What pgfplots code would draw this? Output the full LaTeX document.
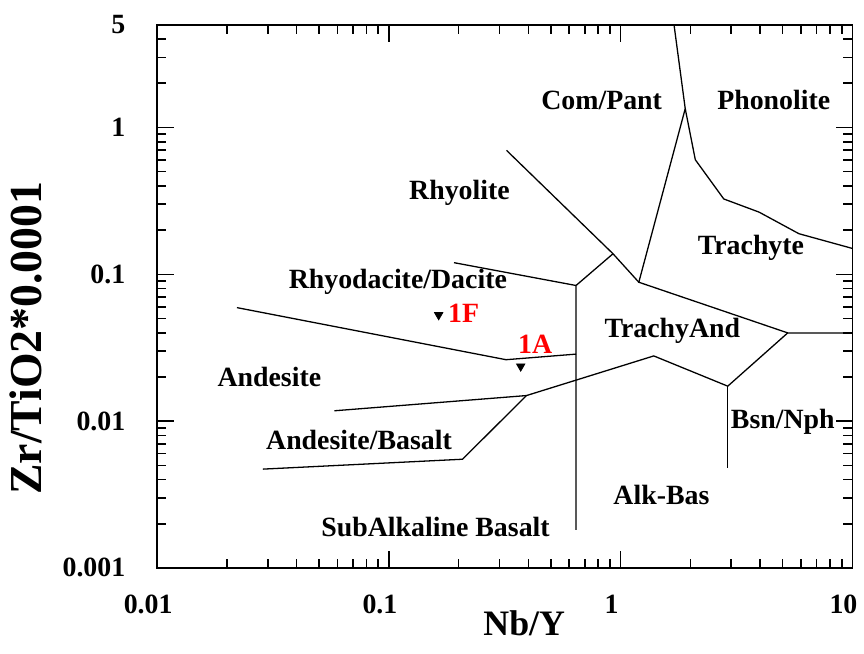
\documentclass[border=0pt]{standalone}
\usepackage{pgfplots}
\pgfplotsset{compat=1.18}
\usepackage{fontspec}
\setmainfont{Liberation Serif}
\begin{document}
\begin{tikzpicture}[lbl/.style={font=\bfseries\fontsize{14}{16}\selectfont}]
\begin{axis}[
  xmode=log, ymode=log,
  scale only axis,
  width=349.5pt, height=273pt,
  xmin=0.01, xmax=10, ymin=0.001, ymax=5,
  axis line style={line width=0.8pt},
  xtick={0.01,0.1,1,10}, xticklabels={0.01,0.1,1,10},
  ytick={0.001,0.01,0.1,1,5}, yticklabels={0.001,0.01,0.1,1,5},
  minor xtick={0.02,0.03,0.04,0.05,0.06,0.07,0.08,0.09,0.2,0.3,0.4,0.5,0.6,0.7,0.8,0.9,2,3,4,5,6,7,8,9},
  minor ytick={0.002,0.003,0.004,0.005,0.006,0.007,0.008,0.009,0.02,0.03,0.04,0.05,0.06,0.07,0.08,0.09,0.2,0.3,0.4,0.5,0.6,0.7,0.8,0.9,2,3,4},
  tick align=inside, tick pos=both,
  major tick length=8.5pt, minor tick length=4.5pt,
  every tick/.style={black, line width=0.8pt},
  ticklabel style={font=\bfseries\fontsize{14}{16}\selectfont},
  xticklabel style={xshift=-4.5pt, yshift=-10pt},
  yticklabel style={xshift=-12.5pt},
  xlabel={Nb/Y}, ylabel={Zr/TiO2*0.0001},
  xlabel style={font=\bfseries\fontsize{18}{20}\selectfont, at={(axis description cs:0.528,-0.1026)}, anchor=center},
  ylabel style={font=\bfseries\fontsize{23}{26}\selectfont, at={(axis description cs:-0.189,0.423)}, anchor=center},
  clip=false,
]
\addplot[black, line width=0.65pt] coordinates {(1.70,5) (1.90,1.343) (2.10,0.603) (2.786,0.326) (3.96,0.265) (5.88,0.189) (10,0.150)};
\addplot[black, line width=0.65pt] coordinates {(1.90,1.343) (1.198,0.0883) (5.26,0.0399) (10,0.0399)};
\addplot[black, line width=0.65pt] coordinates {(0.322,0.698) (0.927,0.138) (1.198,0.0883)};
\addplot[black, line width=0.65pt] coordinates {(0.927,0.138) (0.642,0.0839) (0.642,0.00182)};
\addplot[black, line width=0.65pt] coordinates {(0.191,0.120) (0.642,0.0839)};
\addplot[black, line width=0.65pt] coordinates {(0.0221,0.0593) (0.3203,0.0262) (0.642,0.0286)};
\addplot[black, line width=0.65pt] coordinates {(0.0582,0.01176) (0.3924,0.01493) (1.39,0.0278) (2.899,0.0173) (5.26,0.0399)};
\addplot[black, line width=0.65pt] coordinates {(2.899,0.0173) (2.899,0.00478)};
\addplot[black, line width=0.65pt] coordinates {(0.3924,0.01493) (0.2078,0.0055) (0.0286,0.00471)};
\addplot[only marks, mark=triangle*, mark size=2.4pt, mark options={rotate=180, fill=black, draw=black}] coordinates {(0.164,0.0528) (0.3705,0.0236)};
\node[lbl] at (axis cs:0.828,1.528) {Com/Pant};
\node[lbl] at (axis cs:4.58,1.528) {Phonolite};
\node[lbl] at (axis cs:0.2017,0.358) {Rhyolite};
\node[lbl] at (axis cs:3.65,0.152) {Trachyte};
\node[lbl] at (axis cs:0.1093,0.0893) {Rhyodacite/Dacite};
\node[lbl] at (axis cs:1.672,0.041) {TrachyAnd};
\node[lbl] at (axis cs:0.0305,0.02) {Andesite};
\node[lbl] at (axis cs:0.0743,0.00748) {Andesite/Basalt};
\node[lbl] at (axis cs:5.01,0.0099) {Bsn/Nph};
\node[lbl] at (axis cs:1.5,0.00312) {Alk-Bas};
\node[lbl] at (axis cs:0.159,0.0019) {SubAlkaline Basalt};
\node[lbl, text=red] at (axis cs:0.21,0.0542) {1F};
\node[lbl, text=red] at (axis cs:0.428,0.0334) {1A};
\end{axis}
\path ([xshift=-79pt,yshift=-43pt]current axis.south west) rectangle ([xshift=3.5pt,yshift=12.5pt]current axis.north east);
\end{tikzpicture}
\end{document}
